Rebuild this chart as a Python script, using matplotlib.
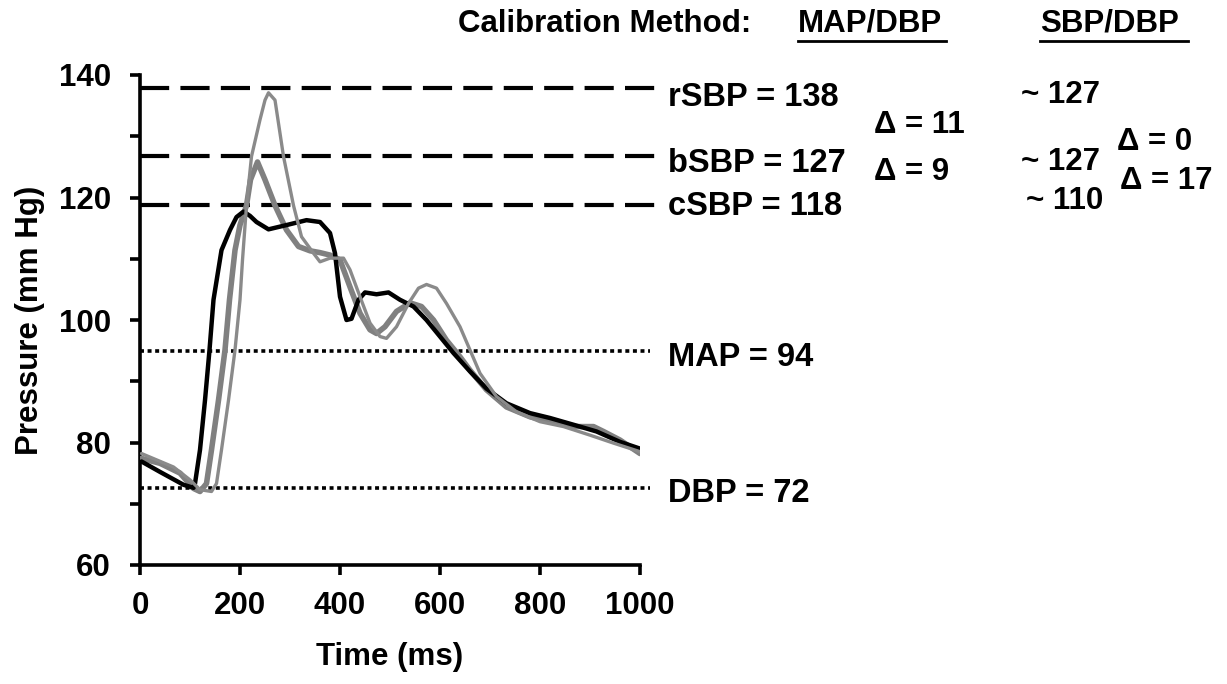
import matplotlib
matplotlib.use("Agg")
import matplotlib.pyplot as plt
from matplotlib.lines import Line2D

plt.rcParams['font.family'] = ['Liberation Sans', 'DejaVu Sans']
plt.rcParams['font.weight'] = 'bold'

# Black waveform
t_black = [3, 40, 87, 107, 110, 120, 130, 139, 147, 163, 180, 193, 207, 220, 233, 257, 293,
           333, 360, 380, 390, 400, 413, 423, 437, 450, 473, 497, 520, 547, 573, 600, 627,
           660, 693, 733, 780, 820, 867, 913, 960, 1000]
p_black = [76.9, 75.2, 73.1, 72.6, 73.3, 78.8, 86.9, 95.1, 103.3, 111.4, 114.7, 116.8, 117.7,
           117.0, 116.0, 114.8, 115.5, 116.3, 116.0, 114.2, 110.9, 103.8, 100.0, 100.2, 103.3,
           104.5, 104.2, 104.5, 103.3, 102.2, 100.0, 97.3, 94.6, 91.6, 88.8, 86.4, 84.8, 84.0,
           82.9, 81.8, 80.1, 79.0]

# Thick grey waveform
t_thick = [3, 40, 80, 107, 120, 133, 143, 157, 170, 179, 190, 200, 213, 221, 235, 250, 270,
           293, 317, 340, 360, 380, 400, 420, 440, 460, 473, 490, 513, 540, 563, 587, 613,
           640, 660, 693, 733, 780, 820, 867, 907, 927, 960, 1000]
p_thick = [77.4, 76.6, 75.0, 72.5, 72.0, 73.3, 78.8, 86.9, 95.1, 103.3, 111.4, 115.5, 118.7,
           122.9, 125.8, 122.9, 118.7, 114.7, 112.0, 111.3, 111.0, 110.6, 109.8, 105.4, 101.1,
           98.4, 97.8, 98.9, 101.4, 102.8, 102.2, 100.0, 96.7, 94.0, 91.8, 88.6, 85.8, 84.2,
           83.4, 82.6, 82.6, 81.8, 80.4, 78.2]

# Thin grey waveform
t_thin = [3, 67, 100, 120, 143, 153, 163, 177, 190, 200, 205, 213, 223, 240, 250, 257, 270,
          287, 307, 323, 347, 360, 380, 407, 420, 440, 460, 480, 493, 513, 537, 557, 573, 593,
          613, 640, 660, 680, 713, 753, 800, 847, 900, 947, 1000]
p_thin = [78.2, 76.0, 73.9, 72.3, 72.0, 73.3, 78.8, 86.9, 95.1, 103.3, 109.8, 118.7, 126.7,
          132.7, 135.9, 137.1, 135.9, 126.7, 118.7, 113.6, 110.9, 109.5, 110.1, 110.1, 108.2,
          103.8, 99.5, 97.3, 97.0, 98.9, 102.7, 105.2, 105.8, 105.2, 102.7, 98.9, 95.1, 91.3,
          87.5, 85.0, 83.4, 82.6, 81.2, 79.9, 78.5]

# Reference levels
sbp_levels = [137.8, 126.7, 118.7]
sbp_labels = ["rSBP = 138", "bSBP = 127", "cSBP = 118"]
map_level, map_label = 94.9, "MAP = 94"
dbp_level, dbp_label = 72.6, "DBP = 72"

x_ticks = [0, 200, 400, 600, 800, 1000]
y_ticks = [60, 80, 100, 120, 140]
y_minor = [70, 90, 110, 130]

W, H = 1227, 684
fig = plt.figure(figsize=(W / 100, H / 100), dpi=100)
ax = fig.add_axes([140 / W, 1 - 565 / H, 500 / W, 490 / H])
ax.set_xlim(0, 1000)
ax.set_ylim(60, 140)

FS = 22.5

for lvl in sbp_levels:
    ax.plot([0, 1030], [lvl, lvl], color='black', lw=3, linestyle=(0, (7, 2.7)),
            clip_on=False, solid_capstyle='butt', dash_capstyle='butt', zorder=2)
for lvl in [map_level, dbp_level]:
    ax.plot([0, 1020], [lvl, lvl], color='black', lw=2.6, linestyle=(0, (1.1, 1.0)),
            clip_on=False, dash_capstyle='butt', zorder=2)

ax.plot(t_thick, p_thick, color='#808080', lw=4.0, zorder=3,
        solid_joinstyle='round', solid_capstyle='round')
ax.plot(t_black, p_black, color='black', lw=3.2, zorder=4,
        solid_joinstyle='round', solid_capstyle='round')
ax.plot(t_thin, p_thin, color='#8a8a8a', lw=2.4, zorder=5,
        solid_joinstyle='round', solid_capstyle='round')

for s in ['top', 'right']:
    ax.spines[s].set_visible(False)
for s in ['left', 'bottom']:
    ax.spines[s].set_linewidth(2.6)

ax.set_xticks(x_ticks)
ax.set_yticks(y_ticks)
ax.set_yticks(y_minor, minor=True)
ax.tick_params(axis='both', which='both', direction='out', width=2.6, length=7,
               labelsize=FS)
ax.tick_params(axis='x', pad=12)
ax.tick_params(axis='y', pad=14)
for lab in ax.get_xticklabels() + ax.get_yticklabels():
    lab.set_fontweight('bold')

ax.set_xlabel("Time (ms)", fontsize=FS, fontweight='bold', labelpad=15)
ax.set_ylabel("Pressure (mm Hg)", fontsize=FS, fontweight='bold', labelpad=10)

# Right-side annotations (figure pixel coordinates)
def ftext(x, y, s, ha='left', fs=FS):
    fig.text(x / W, 1 - y / H, s, fontsize=fs, fontweight='bold', ha=ha, va='center')

ftext(458, 24, "Calibration Method:")
ftext(798, 24, "MAP/DBP")
ftext(1040, 24, "SBP/DBP")
fig.add_artist(Line2D([798 / W, 946 / W], [1 - 41 / H, 1 - 41 / H], color='black', lw=2))
fig.add_artist(Line2D([1040 / W, 1188 / W], [1 - 41 / H, 1 - 41 / H], color='black', lw=2))

ftext(668, 97, sbp_labels[0], fs=23.5)
ftext(668, 163, sbp_labels[1], fs=23.5)
ftext(668, 207, sbp_labels[2], fs=23.5)
ftext(668, 358, map_label, fs=23.5)
ftext(668, 494, dbp_label, fs=23.5)

ftext(874, 125, "Δ = 11")
ftext(874, 172, "Δ = 9")
ftext(1021, 95, "~ 127")
ftext(1021, 162, "~ 127")
ftext(1026, 201, "~ 110")
ftext(1117, 142, "Δ = 0")
ftext(1120, 181, "Δ = 17")

fig.savefig("out.png", dpi=100)
